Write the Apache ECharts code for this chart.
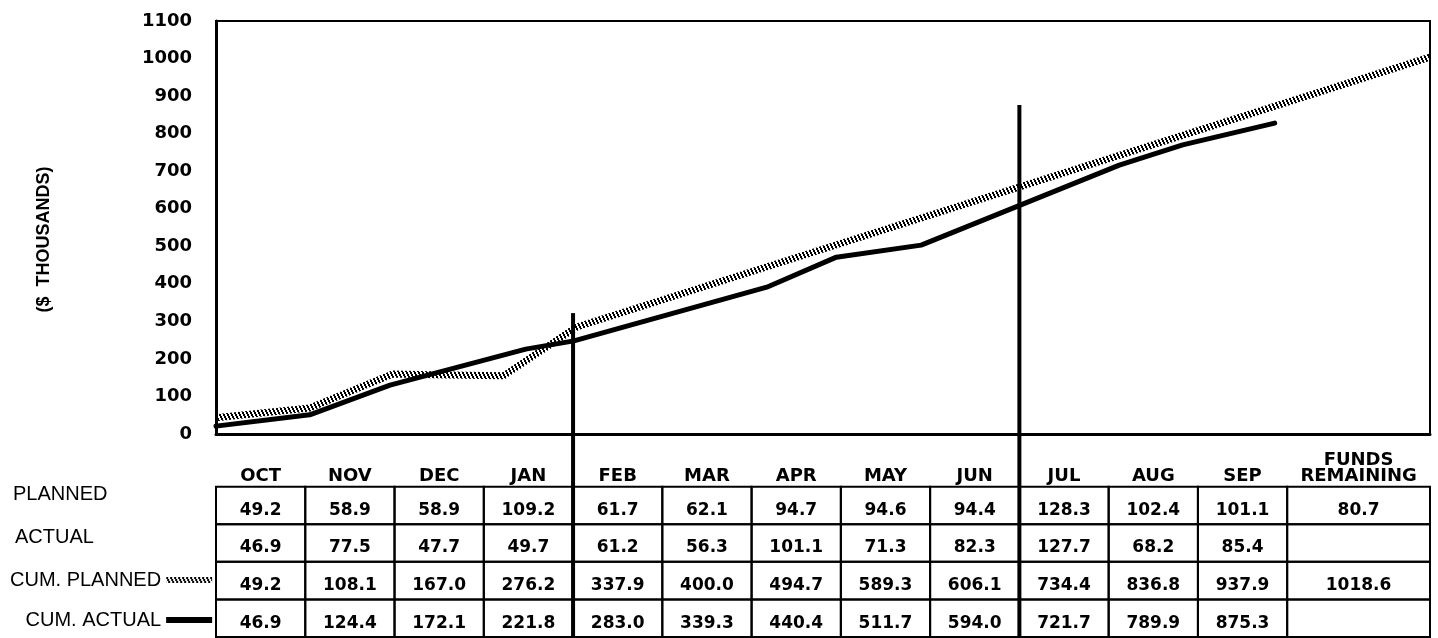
<!DOCTYPE html>
<html>
<head>
<meta charset="utf-8">
<script src="https://cdn.jsdelivr.net/npm/echarts@6/dist/echarts.min.js"></script>
<style>
  html, body { margin: 0; padding: 0; background: #fff; }
  #chart-container { width: 1438px; height: 638px; }
</style>
</head>
<body>
<div id="chart-container"></div>
<script>
// table values
const months = ["OCT", "NOV", "DEC", "JAN", "FEB", "MAR", "APR", "MAY", "JUN", "JUL", "AUG", "SEP"];
const planned = [49.2, 58.9, 58.9, 109.2, 61.7, 62.1, 94.7, 94.6, 94.4, 128.3, 102.4, 101.1];
const actual = [46.9, 77.5, 47.7, 49.7, 61.2, 56.3, 101.1, 71.3, 82.3, 127.7, 68.2, 85.4];
const cumPlanned = [49.2, 108.1, 167.0, 276.2, 337.9, 400.0, 494.7, 589.3, 606.1, 734.4, 836.8, 937.9];
const cumActual = [46.9, 124.4, 172.1, 221.8, 283.0, 339.3, 440.4, 511.7, 594.0, 721.7, 789.9, 875.3];
const fundsRemaining = [80.7, null, 1018.6, null];
const rowNames = ["PLANNED", "ACTUAL", "CUM. PLANNED", "CUM. ACTUAL"];

// lines as drawn on the chart: [months from start of OCT, $ thousands]
const cumPlannedLine = [[0, 43], [1.05, 69], [1.98, 160], [2.43, 158], [3.22, 155], [4.04, 285], [13.6, 1004]];
const cumActualLine = [[0, 21], [1.05, 51], [1.95, 130], [3.47, 226], [4.01, 248], [6.17, 391], [6.95, 471],
  [7.9, 503], [10.12, 716], [10.83, 770], [11.86, 828]];

// the two heavy vertical markers (month boundary, top value)
const dividerMonths = [4, 9];
const dividerTops = [322, 876];

const yTicks = { min: 0, max: 1100, interval: 100 };
const lastCol = 13.6;

const numFont = 'bold 17px "DejaVu Sans"';

// crisp diagonal hatch tile for the planned line
function hatch() {
  const c = document.createElement("canvas");
  c.width = 4;
  c.height = 8;
  const ctx = c.getContext("2d");
  ctx.fillStyle = "#000";
  for (let y = 0; y < 8; y++) {
    let x = Math.floor(y / 2);
    ctx.fillRect(x, y, 2, 1);
    if (x + 2 > 4) ctx.fillRect(0, y, x + 2 - 4, 1);
  }
  return c;
}
const hatchColor = { image: hatch(), repeat: "repeat" };

// cells of the table: [col, row, text]
let cells = [];
const rows = [planned, actual, cumPlanned, cumActual];
rows.forEach(function (arr, r) {
  arr.forEach(function (v, c) {
    cells.push([c, r, v.toFixed(1)]);
  });
  let f = fundsRemaining[r];
  cells.push([12, r, f == null ? "" : f.toFixed(1)]);
});
let headers = months.map(function (m, c) { return [c, -1, m]; });
headers.push([12, -1, "FUNDS\nREMAINING"]);
const tableItems = headers.concat(cells);

var dom = document.getElementById("chart-container");
var myChart = echarts.init(dom, null, { renderer: "canvas" });

function renderCell(params, api) {
  let col = api.value(0);
  let row = api.value(1);
  let text = tableItems[params.dataIndex][2];
  let x1 = col < 12 ? col + 1 : lastCol;
  let p0 = api.coord([col, row]);
  let p1 = api.coord([x1, row + 1]);
  if (row < 0) {
    let pb = api.coord([col, 0]);
    return {
      type: "text",
      style: {
        text: text, x: (p0[0] + p1[0]) / 2, y: pb[1] - 2,
        align: "center", verticalAlign: "bottom",
        font: 'bold 18px "DejaVu Sans"', lineHeight: 16, fill: "#000"
      }
    };
  }
  return {
    type: "group",
    children: [
      {
        type: "rect",
        shape: { x: p0[0], y: p0[1], width: p1[0] - p0[0], height: p1[1] - p0[1] },
        style: { fill: null, stroke: "#000", lineWidth: 2 }
      },
      {
        type: "text",
        style: {
          text: text, x: (p0[0] + p1[0]) / 2, y: (p0[1] + p1[1]) / 2 + 5,
          align: "center", verticalAlign: "middle", font: numFont, fill: "#000"
        }
      }
    ]
  };
}

function dividerRenderer(bottomVal) {
  return function (params, api) {
    let top = api.coord([api.value(0), api.value(1)]);
    let bot = api.coord([api.value(0), bottomVal]);
    return {
      type: "line",
      shape: { x1: top[0], y1: top[1], x2: bot[0], y2: bot[1] },
      style: { stroke: "#000", lineWidth: 4 }
    };
  };
}

var option = {
  animation: false,
  backgroundColor: "#fff",
  grid: [
    { left: 216, right: 8, top: 21, bottom: 204, show: true, borderColor: "#000", borderWidth: 2 },
    { left: 216, right: 8, top: 434, bottom: 1 }
  ],
  legend: {
    data: [
      { name: "CUM. PLANNED", icon: "rect", itemStyle: { color: hatchColor } },
      { name: "CUM. ACTUAL", icon: "rect", itemStyle: { color: "#000" } }
    ],
    orient: "vertical",
    left: 10,
    top: 569,
    padding: 0,
    align: "right",
    itemWidth: 46,
    itemHeight: 6,
    itemGap: 18,
    selectedMode: false,
    textStyle: { fontFamily: "Liberation Sans", fontSize: 20, color: "#000", lineHeight: 22 }
  },
  graphic: [
    { type: "text", left: 13, top: 484, style: { text: rowNames[0], font: '20px "Liberation Sans"', fill: "#000" } },
    { type: "text", left: 15, top: 527, style: { text: rowNames[1], font: '20px "Liberation Sans"', fill: "#000" } }
  ],
  xAxis: [
    {
      type: "value", gridIndex: 0, min: 0, max: lastCol,
      axisLine: { show: true, lineStyle: { color: "#000", width: 3 } },
      axisTick: { show: false }, axisLabel: { show: false }, splitLine: { show: false }
    },
    { type: "value", gridIndex: 1, min: 0, max: lastCol, show: false }
  ],
  yAxis: [
    {
      type: "value", gridIndex: 0, min: yTicks.min, max: yTicks.max, interval: yTicks.interval,
      name: "($  THOUSANDS)",
      nameLocation: "middle",
      nameRotate: 90,
      nameGap: 163,
      nameTextStyle: { fontFamily: "Liberation Sans", fontWeight: "bold", fontSize: 18, color: "#000", padding: [0, 24, 0, 0] },
      axisLine: { show: true, lineStyle: { color: "#000", width: 3 } },
      axisTick: { show: false },
      axisLabel: {
        margin: 24, fontFamily: "DejaVu Sans", fontWeight: "bold", fontSize: 18, color: "#000",
        formatter: function (v) { return String(v); }
      },
      splitLine: { show: false }
    },
    { type: "value", gridIndex: 1, min: -1.4, max: 4, inverse: true, show: false }
  ],
  series: [
    {
      name: "CUM. ACTUAL",
      type: "line",
      xAxisIndex: 0, yAxisIndex: 0,
      data: cumActualLine,
      symbol: "none",
      lineStyle: { color: "#000", width: 5, cap: "round", join: "round" },
      itemStyle: { color: "#000" },
      z: 3
    },
    {
      name: "CUM. PLANNED",
      type: "line",
      xAxisIndex: 0, yAxisIndex: 0,
      data: cumPlannedLine,
      symbol: "none",
      lineStyle: { color: hatchColor, width: 7, cap: "butt" },
      itemStyle: { color: "#000" },
      z: 4
    },
    {
      type: "custom",
      xAxisIndex: 0, yAxisIndex: 0,
      data: dividerMonths.map(function (m, i) { return [m, dividerTops[i]]; }),
      renderItem: dividerRenderer(0),
      clip: false,
      z: 5
    },
    {
      type: "custom",
      xAxisIndex: 1, yAxisIndex: 1,
      data: tableItems.map(function (d) { return [d[0], d[1]]; }),
      renderItem: renderCell,
      clip: false
    },
    {
      type: "custom",
      xAxisIndex: 1, yAxisIndex: 1,
      data: dividerMonths.map(function (m) { return [m, -1.4]; }),
      renderItem: dividerRenderer(4),
      clip: false,
      z: 5
    }
  ]
};

myChart.setOption(option);
window.addEventListener("resize", myChart.resize);
</script>
</body>
</html>
